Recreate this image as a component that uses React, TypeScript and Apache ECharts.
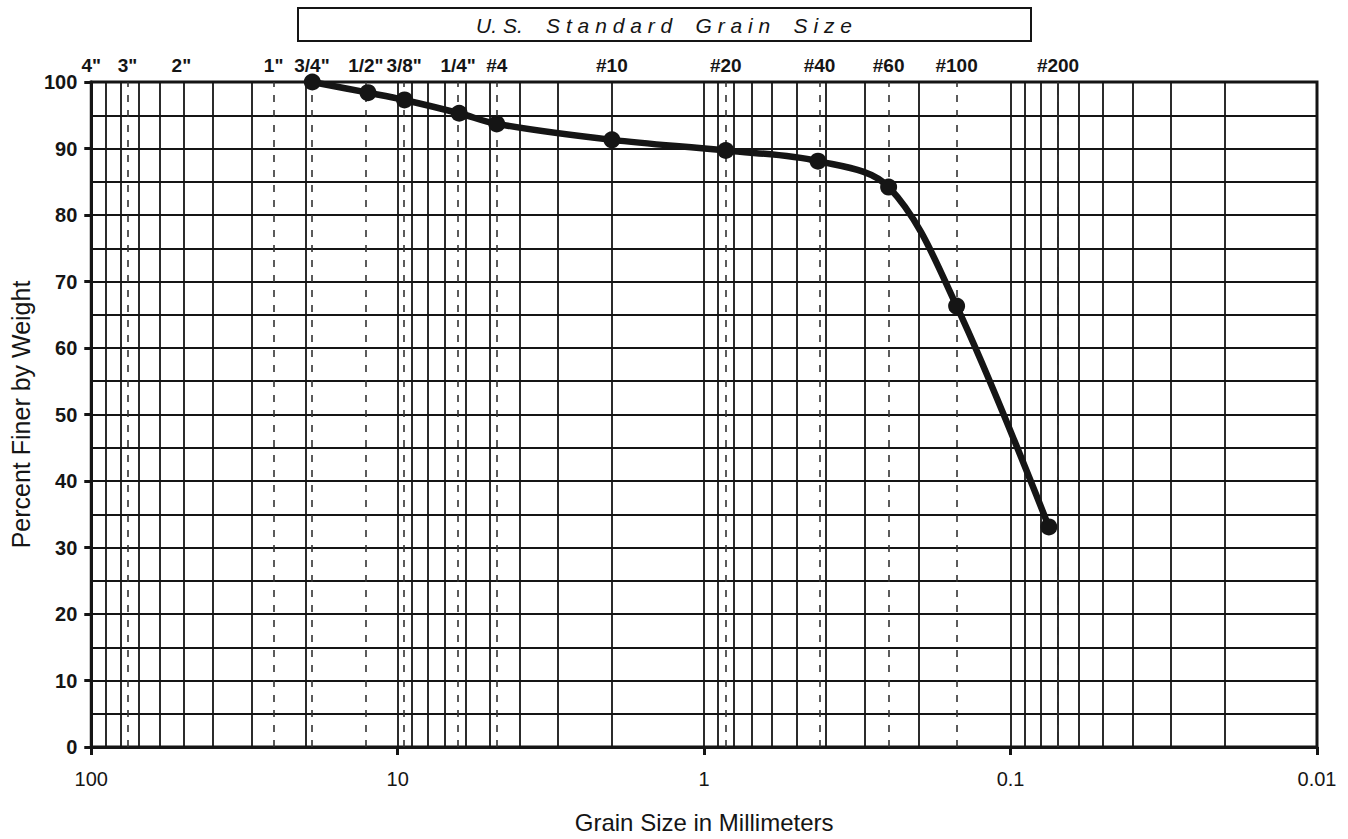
import React, { useEffect, useRef } from "react";
import * as echarts from "echarts";

// Sieve designations shown along the top of the chart and their openings (mm)
const sieveNames = ['4"', '3"', '2"', '1"', '3/4"', '1/2"', '3/8"', '1/4"', "#4", "#10", "#20", "#40", "#60", "#100", "#200"];
const sieveSizesMm = [101.6, 76.2, 50.8, 25.4, 19.05, 12.7, 9.525, 6.35, 4.75, 2.0, 0.85, 0.425, 0.25, 0.15, 0.075];
const sieveDashed = [false, true, false, true, true, true, true, true, true, false, true, true, true, true, true];

// Gradation test result
const grainSizeMm = [19.0, 12.5, 9.5, 6.3, 4.75, 2.0, 0.85, 0.425, 0.25, 0.15, 0.075];
const percentFiner = [100, 98.4, 97.3, 95.3, 93.7, 91.3, 89.7, 88.1, 84.2, 66.3, 33.1];

// Axis settings
const xDecades = [10, 1, 0.1, 0.01];
const xMinorMultipliers = [2, 3, 4, 5, 6, 7, 8, 9];
const xMin = 0.01;
const xMax = 100;
const yMin = 0;
const yMax = 100;
const yInterval = 10;

const titleText = "U. S.    S t a n d a r d    G r a i n    S i z e";
const xName = "Grain Size in Millimeters";
const yName = "Percent Finer by Weight";

export default function App() {
  const ref = useRef<HTMLDivElement>(null);

  useEffect(() => {
    const chart = echarts.init(ref.current!, null, { renderer: "svg" });
    const font = 'Arial, "Liberation Sans", sans-serif';
    const ink = "#151515";

    const gridValues: number[] = [];
    xDecades.forEach((d) =>
      xMinorMultipliers.forEach((m) => gridValues.push(+(m * d).toPrecision(6)))
    );

    const sieveLines = sieveNames.map((name, i) => ({
      name,
      xAxis: Math.min(sieveSizesMm[i], xMax),
      lineStyle: sieveDashed[i]
        ? { type: [7, 8], color: "#333", width: 1.6 }
        : { type: "solid", color: "rgba(0,0,0,0)", width: 0 },
    }));

    chart.setOption({
      animation: false,
      backgroundColor: "#ffffff",
      grid: {
        left: 87,
        right: 31,
        top: 82,
        bottom: 90,
        show: true,
        borderColor: ink,
        borderWidth: 3,
        backgroundColor: "transparent",
      },
      graphic: [
        {
          type: "group",
          children: [
            {
              type: "rect",
              shape: { x: 298, y: 8, width: 733, height: 33 },
              style: { fill: "#fff", stroke: ink, lineWidth: 2 },
            },
            {
              type: "text",
              x: 664,
              y: 25,
              style: {
                text: titleText,
                fontFamily: font,
                fontSize: 21,
                fontStyle: "italic",
                fill: ink,
                align: "center",
                verticalAlign: "middle",
              },
            },
          ],
        },
      ],
      xAxis: {
        type: "log",
        logBase: 10,
        min: xMin,
        max: xMax,
        inverse: true,
        name: xName,
        nameLocation: "middle",
        nameGap: 63,
        nameTextStyle: { fontFamily: font, fontSize: 24, color: ink },
        axisLine: { onZero: false, lineStyle: { color: ink, width: 3 } },
        axisTick: { show: true, length: 8, lineStyle: { color: ink, width: 3 } },
        axisLabel: { fontFamily: font, fontSize: 20, color: ink, margin: 22 },
        splitLine: { show: true, lineStyle: { color: ink, width: 1.8 } },
      },
      yAxis: {
        type: "value",
        min: yMin,
        max: yMax,
        interval: yInterval,
        name: yName,
        nameLocation: "middle",
        nameGap: 53,
        nameTextStyle: { fontFamily: font, fontSize: 25, color: ink },
        axisLine: { onZero: false, lineStyle: { color: ink, width: 3 } },
        axisTick: { show: true, length: 7, lineStyle: { color: ink, width: 3 } },
        axisLabel: { fontFamily: font, fontSize: 20, fontWeight: "bold", color: ink, margin: 14 },
        splitLine: { show: true, lineStyle: { color: ink, width: 1.8 } },
        minorTick: { show: false, splitNumber: 2 },
        minorSplitLine: { show: true, lineStyle: { color: ink, width: 1.8 } },
      },
      series: [
        {
          type: "line",
          name: "log grid",
          data: [],
          silent: true,
          markLine: {
            silent: true,
            z: 1,
            symbol: ["none", "none"],
            label: { show: false },
            lineStyle: { type: "solid", color: ink, width: 1.8 },
            emphasis: { disabled: true },
            data: gridValues.map((v) => ({ xAxis: v })),
          },
        },
        {
          type: "line",
          name: "sieves",
          data: [],
          silent: true,
          markLine: {
            silent: true,
            z: 2,
            symbol: ["none", "none"],
            emphasis: { disabled: true },
            label: {
              show: true,
              position: "end",
              distance: 7,
              formatter: (p: any) => p.name,
              fontFamily: font,
              fontSize: 19,
              fontWeight: "bold",
              color: ink,
            },
            data: sieveLines,
          },
        },
        {
          type: "line",
          name: "Percent Finer",
          z: 10,
          data: grainSizeMm.map((x, i) => [x, percentFiner[i]]),
          smooth: 0.35,
          symbol: "circle",
          symbolSize: 17,
          lineStyle: { color: ink, width: 6.5 },
          itemStyle: { color: ink },
        },
      ],
    });

    return () => chart.dispose();
  }, []);

  return (
    <div
      ref={ref}
      style={{ position: "fixed", left: 0, top: 0, width: 1348, height: 839, background: "#fff" }}
    />
  );
}
